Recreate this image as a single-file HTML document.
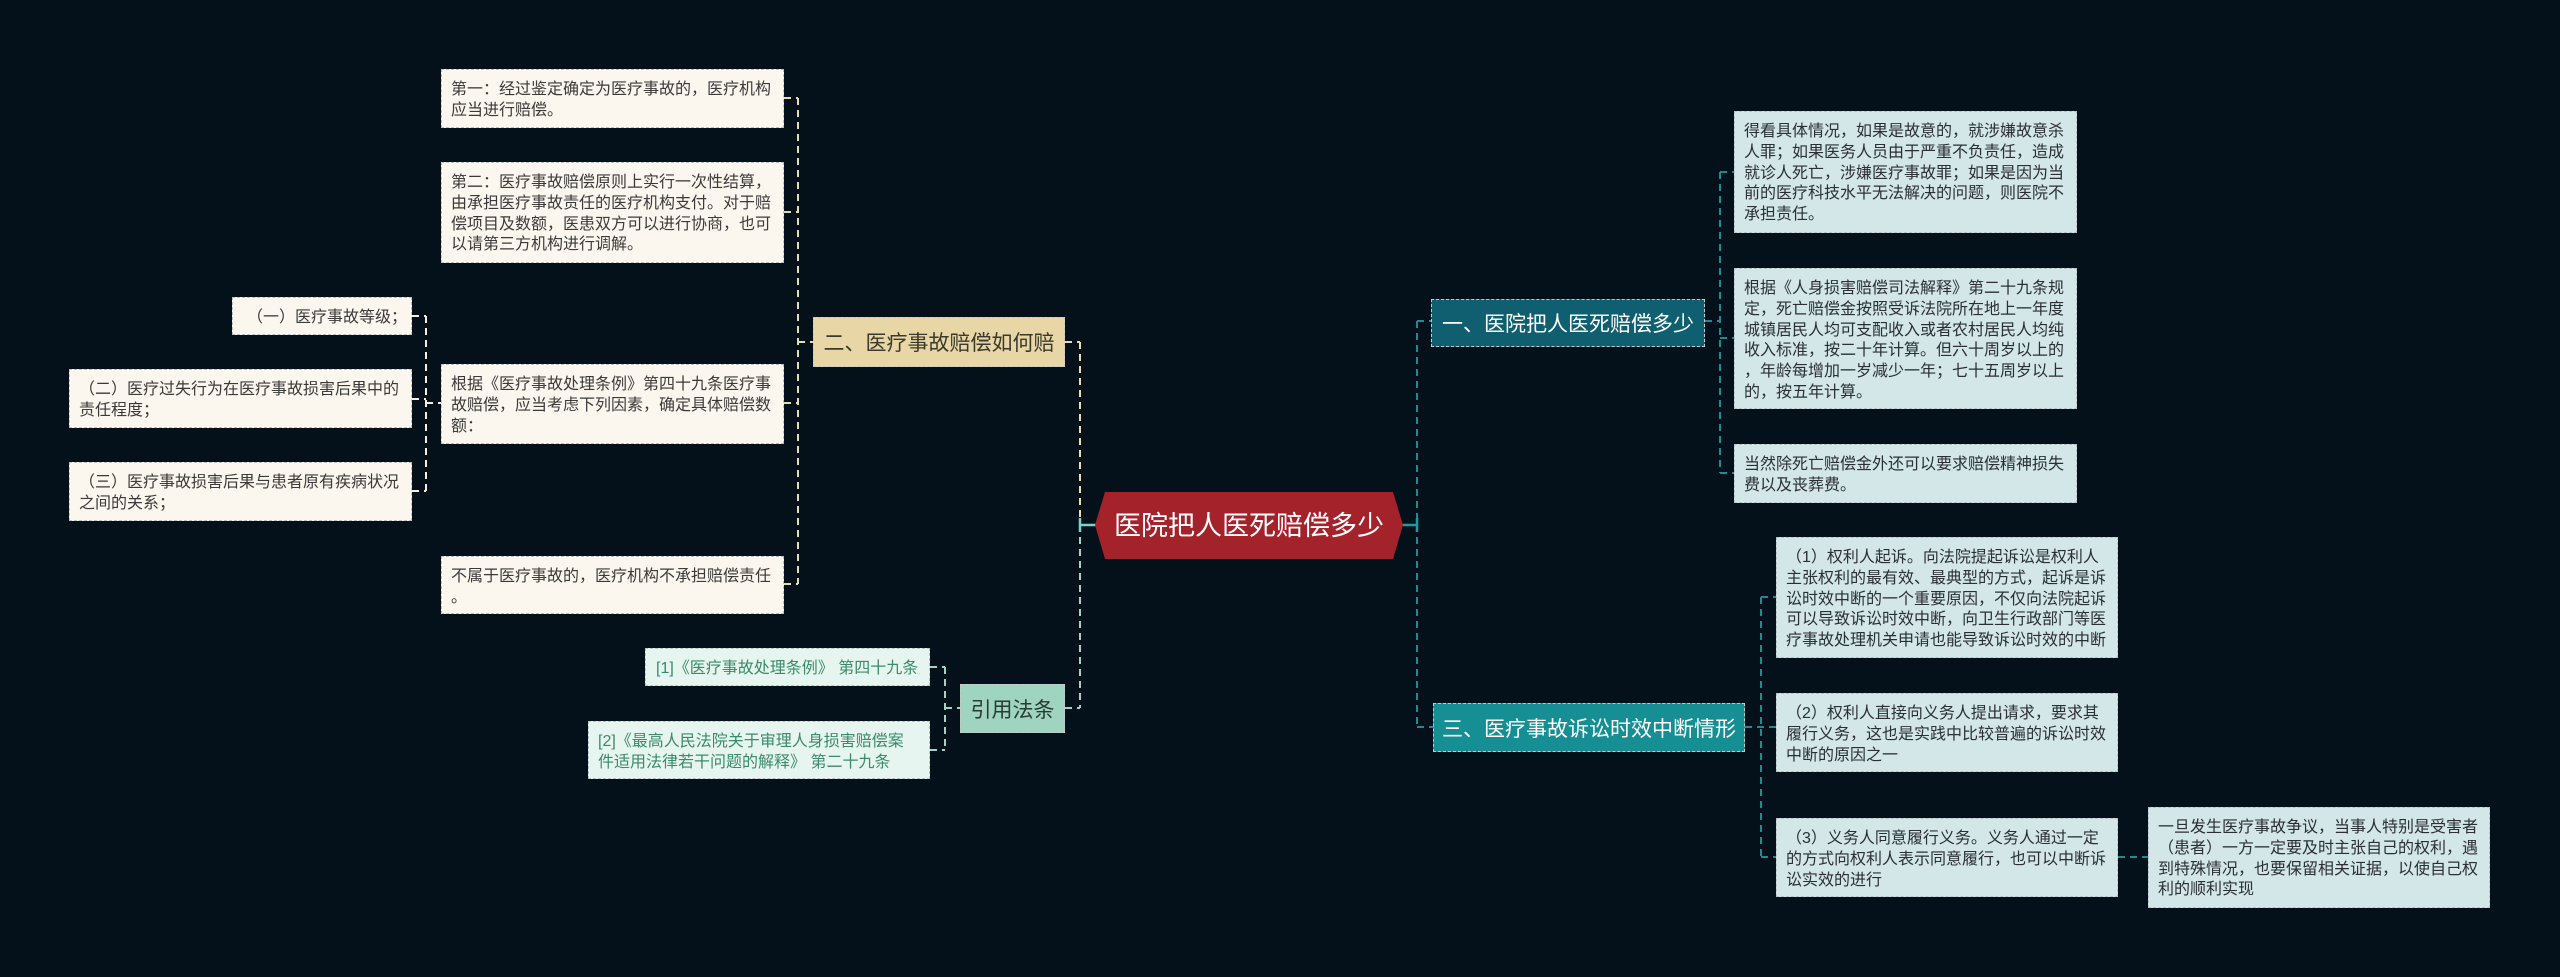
<!DOCTYPE html>
<html><head><meta charset="utf-8">
<style>
html,body{margin:0;padding:0;}
body{width:2560px;height:977px;background:#04111a;position:relative;overflow:hidden;font-family:"Liberation Sans","Noto Sans CJK SC",sans-serif;}
.b{position:absolute;box-sizing:border-box;font-size:16px;line-height:20.8px;padding:10px 9px;border:1.5px dashed #b9c2c6;white-space:nowrap;overflow:hidden;}
.c{background:#fbf7ee;color:#3a3a3a;}
.r{background:#d3e6e8;color:#2a2f33;}
.q{background:#e6f5ef;color:#3b8a6c;}
.n{position:absolute;box-sizing:border-box;font-size:21px;display:flex;align-items:center;justify-content:center;white-space:nowrap;border:1.5px dashed #c8c8c8;}
svg{position:absolute;left:0;top:0;}
</style></head><body>
<svg width="2560" height="977">
<g fill="none" stroke-width="2" stroke-dasharray="7,5">
<g stroke="#e6dcae">
<line x1="1080" y1="342" x2="1080" y2="525"/>
<line x1="1065" y1="342" x2="1080" y2="342"/>
<line x1="798" y1="98" x2="798" y2="584"/>
<line x1="798" y1="342" x2="813" y2="342"/>
<line x1="784" y1="98" x2="798" y2="98"/>
<line x1="784" y1="212" x2="798" y2="212"/>
<line x1="784" y1="403" x2="798" y2="403"/>
<line x1="784" y1="584" x2="798" y2="584"/>
</g>
<g stroke="#f2eee2">
<line x1="426" y1="316" x2="426" y2="491"/>
<line x1="426" y1="403" x2="441" y2="403"/>
<line x1="412" y1="316" x2="426" y2="316"/>
<line x1="412" y1="399" x2="426" y2="399"/>
<line x1="412" y1="491" x2="426" y2="491"/>
</g>
<g stroke="#9ed4c0">
<line x1="1080" y1="525" x2="1080" y2="708"/>
<line x1="1065" y1="708" x2="1080" y2="708"/>
<line x1="945" y1="667" x2="945" y2="750"/>
<line x1="945" y1="708" x2="960" y2="708"/>
<line x1="930" y1="667" x2="945" y2="667"/>
<line x1="930" y1="750" x2="945" y2="750"/>
</g>
<g stroke="#1f8a92">
<line x1="1417" y1="321" x2="1417" y2="727"/>
<line x1="1417" y1="321" x2="1431" y2="321"/>
<line x1="1417" y1="727" x2="1433" y2="727"/>
<line x1="1720" y1="172" x2="1720" y2="473"/>
<line x1="1705" y1="321" x2="1720" y2="321"/>
<line x1="1720" y1="172" x2="1734" y2="172"/>
<line x1="1720" y1="338" x2="1734" y2="338"/>
<line x1="1720" y1="473" x2="1734" y2="473"/>
<line x1="1761" y1="597" x2="1761" y2="857"/>
<line x1="1745" y1="727" x2="1776" y2="727"/>
<line x1="1761" y1="597" x2="1776" y2="597"/>
<line x1="1761" y1="857" x2="1776" y2="857"/>
<line x1="2118" y1="857" x2="2148" y2="857"/>
</g>
</g>
<g stroke="#7fd0c8" stroke-width="2.5">
<line x1="1080" y1="525" x2="1096" y2="525"/>
<line x1="1080" y1="518" x2="1080" y2="532"/>
</g>
<g stroke="#1f9aa0" stroke-width="2.5">
<line x1="1402" y1="525" x2="1417" y2="525"/>
<line x1="1417" y1="518" x2="1417" y2="532"/>
</g>
<polygon points="1095,525 1105,492 1393,492 1403,525 1393,559 1105,559" fill="#a4232b"/>
<text x="1249" y="535" text-anchor="middle" fill="#ffffff" font-size="27" font-family="Liberation Sans, Noto Sans CJK SC, sans-serif">医院把人医死赔偿多少</text>
</svg>

<div class="b c" style="left:441px;top:69px;width:343px;height:59px;">第一：经过鉴定确定为医疗事故的，医疗机构<br>应当进行赔偿。</div>
<div class="b c" style="left:441px;top:162px;width:343px;height:101px;">第二：医疗事故赔偿原则上实行一次性结算，<br>由承担医疗事故责任的医疗机构支付。对于赔<br>偿项目及数额，医患双方可以进行协商，也可<br>以请第三方机构进行调解。</div>
<div class="b c" style="left:232px;top:297px;width:180px;height:38px;padding-left:14px;">（一）医疗事故等级；</div>
<div class="b c" style="left:69px;top:369px;width:343px;height:59px;">（二）医疗过失行为在医疗事故损害后果中的<br>责任程度；</div>
<div class="b c" style="left:69px;top:462px;width:343px;height:59px;">（三）医疗事故损害后果与患者原有疾病状况<br>之间的关系；</div>
<div class="b c" style="left:441px;top:364px;width:343px;height:80px;">根据《医疗事故处理条例》第四十九条医疗事<br>故赔偿，应当考虑下列因素，确定具体赔偿数<br>额：</div>
<div class="b c" style="left:441px;top:556px;width:343px;height:58px;">不属于医疗事故的，医疗机构不承担赔偿责任<br>。</div>

<div class="n" style="left:813px;top:317px;width:252px;height:50px;background:#e8d6a6;color:#3a3a2a;">二、医疗事故赔偿如何赔</div>
<div class="n" style="left:960px;top:684px;width:105px;height:49px;background:#9ed4c0;color:#2a3a34;">引用法条</div>

<div class="b q" style="left:645px;top:648px;width:285px;height:38px;padding-left:10px;">[1]《医疗事故处理条例》 第四十九条</div>
<div class="b q" style="left:588px;top:721px;width:342px;height:58px;">[2]《最高人民法院关于审理人身损害赔偿案<br>件适用法律若干问题的解释》 第二十九条</div>

<div class="n" style="left:1431px;top:299px;width:274px;height:48px;background:#0f5f70;color:#fff;">一、医院把人医死赔偿多少</div>
<div class="n" style="left:1433px;top:703px;width:312px;height:49px;background:#158f93;color:#fff;">三、医疗事故诉讼时效中断情形</div>

<div class="b r" style="left:1734px;top:111px;width:343px;height:122px;">得看具体情况，如果是故意的，就涉嫌故意杀<br>人罪；如果医务人员由于严重不负责任，造成<br>就诊人死亡，涉嫌医疗事故罪；如果是因为当<br>前的医疗科技水平无法解决的问题，则医院不<br>承担责任。</div>
<div class="b r" style="left:1734px;top:268px;width:343px;height:141px;">根据《人身损害赔偿司法解释》第二十九条规<br>定，死亡赔偿金按照受诉法院所在地上一年度<br>城镇居民人均可支配收入或者农村居民人均纯<br>收入标准，按二十年计算。但六十周岁以上的<br>，年龄每增加一岁减少一年；七十五周岁以上<br>的，按五年计算。</div>
<div class="b r" style="left:1734px;top:444px;width:343px;height:59px;">当然除死亡赔偿金外还可以要求赔偿精神损失<br>费以及丧葬费。</div>

<div class="b r" style="left:1776px;top:537px;width:342px;height:121px;">（1）权利人起诉。向法院提起诉讼是权利人<br>主张权利的最有效、最典型的方式，起诉是诉<br>讼时效中断的一个重要原因，不仅向法院起诉<br>可以导致诉讼时效中断，向卫生行政部门等医<br>疗事故处理机关申请也能导致诉讼时效的中断</div>
<div class="b r" style="left:1776px;top:693px;width:342px;height:79px;">（2）权利人直接向义务人提出请求，要求其<br>履行义务，这也是实践中比较普遍的诉讼时效<br>中断的原因之一</div>
<div class="b r" style="left:1776px;top:818px;width:342px;height:79px;">（3）义务人同意履行义务。义务人通过一定<br>的方式向权利人表示同意履行，也可以中断诉<br>讼实效的进行</div>
<div class="b r" style="left:2148px;top:807px;width:342px;height:101px;">一旦发生医疗事故争议，当事人特别是受害者<br>（患者）一方一定要及时主张自己的权利，遇<br>到特殊情况，也要保留相关证据，以使自己权<br>利的顺利实现</div>
</body></html>
